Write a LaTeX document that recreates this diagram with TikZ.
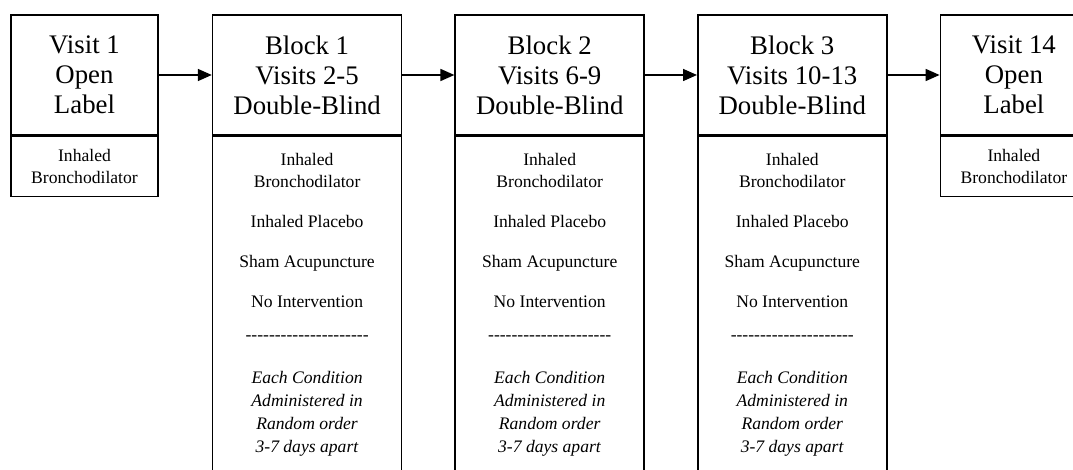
\documentclass[tikz,border=0pt]{standalone}
\usepackage{fontspec}
\setmainfont{Liberation Serif}
\usetikzlibrary{positioning,arrows.meta}

\newcommand\dashrow{\foreach \k in {1,...,21}{-\kern0pt}}

\begin{document}
\begin{tikzpicture}[
  headbox/.style={draw, line width=0.8pt, align=center, minimum width=94.5pt, minimum height=60pt,
    font=\fontsize{13.4}{15}\selectfont},
  visitbox/.style={headbox, minimum width=73.5pt},
  bodybox/.style={draw, line width=0.8pt, minimum width=94.5pt, minimum height=200pt},
  visitbody/.style={draw, line width=0.8pt, align=center, minimum width=73.5pt, minimum height=30pt,
    font=\fontsize{8.8}{11}\selectfont},
  condtext/.style={align=center, inner sep=0pt, outer sep=0pt, font=\fontsize{8.8}{11}\selectfont},
  arr/.style={-{Triangle[length=7pt,width=6pt]}, line width=0.8pt}
]
\useasboundingbox (0,0) rectangle (536.5pt,-235pt);

\node[visitbox] (v1) at (42.25pt,-37.5pt) {Visit 1\\Open\\Label};
\node[headbox, right=26.5pt of v1] (b1) {Block 1\\Visits 2-5\\Double-Blind};
\node[headbox, right=26pt of b1] (b2) {Block 2\\Visits 6-9\\Double-Blind};
\node[headbox, right=26pt of b2] (b3) {Block 3\\Visits 10-13\\Double-Blind};
\node[visitbox, right=26pt of b3] (v14) {Visit 14\\Open\\Label};

\node[visitbody, below=0pt of v1] (v1b) {Inhaled\\Bronchodilator};
\node[visitbody, below=0pt of v14] (v14b) {Inhaled\\Bronchodilator};

\node[bodybox, below=0pt of b1] (b1b) {};
\node[bodybox, below=0pt of b2] (b2b) {};
\node[bodybox, below=0pt of b3] (b3b) {};

\node[condtext, below=8.5pt of b1] (c1) {Inhaled\\Bronchodilator\\[9pt]Inhaled Placebo\\[9pt]Sham Acupuncture\\[9pt]No Intervention\\[5.5pt]\dashrow\\[10.5pt]\textit{Each Condition}\\[0.5pt]\textit{Administered in}\\[0.5pt]\textit{Random order}\\[0.5pt]\textit{3-7 days apart}};
\node[condtext, below=8.5pt of b2] (c2) {Inhaled\\Bronchodilator\\[9pt]Inhaled Placebo\\[9pt]Sham Acupuncture\\[9pt]No Intervention\\[5.5pt]\dashrow\\[10.5pt]\textit{Each Condition}\\[0.5pt]\textit{Administered in}\\[0.5pt]\textit{Random order}\\[0.5pt]\textit{3-7 days apart}};
\node[condtext, below=8.5pt of b3] (c3) {Inhaled\\Bronchodilator\\[9pt]Inhaled Placebo\\[9pt]Sham Acupuncture\\[9pt]No Intervention\\[5.5pt]\dashrow\\[10.5pt]\textit{Each Condition}\\[0.5pt]\textit{Administered in}\\[0.5pt]\textit{Random order}\\[0.5pt]\textit{3-7 days apart}};

\draw[arr] (v1) -- (b1);
\draw[arr] (b1) -- (b2);
\draw[arr] (b2) -- (b3);
\draw[arr] (b3) -- (v14);

\end{tikzpicture}
\end{document}
